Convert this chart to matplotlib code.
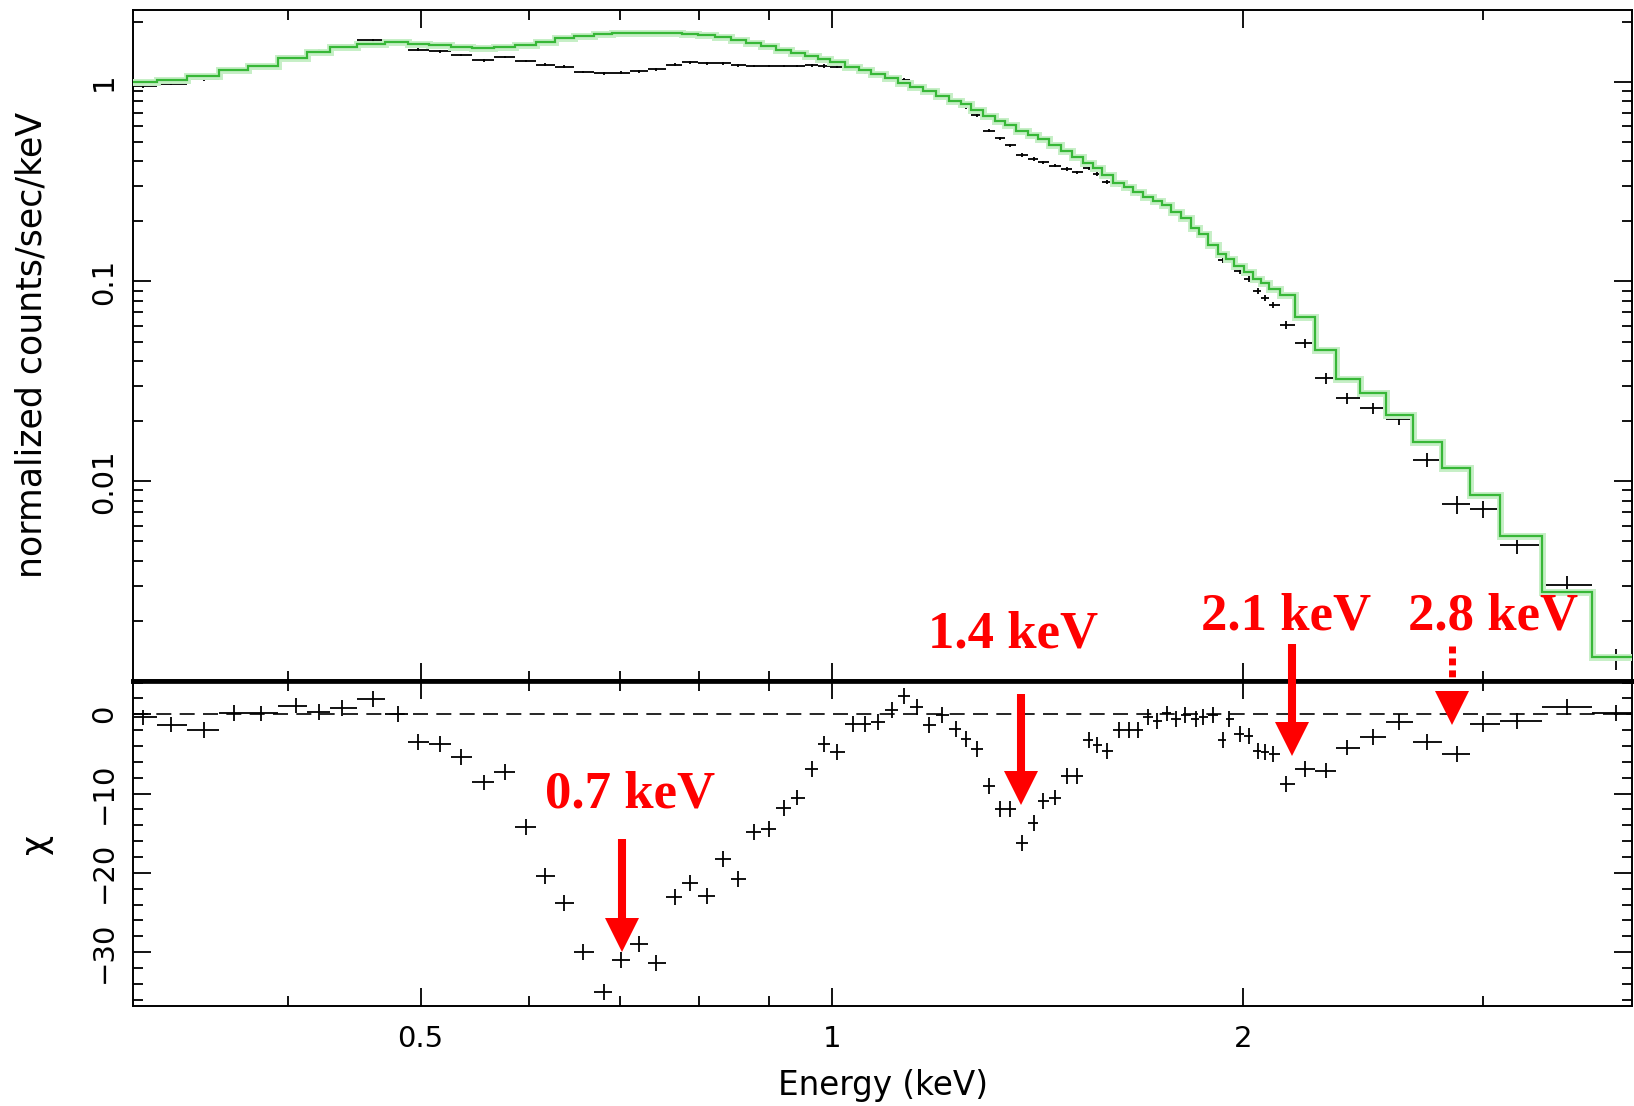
import matplotlib
matplotlib.use('Agg')
import matplotlib.pyplot as plt
import numpy as np
from matplotlib.ticker import FixedLocator, FixedFormatter, NullFormatter, LogLocator, MultipleLocator

plt.rcParams['font.family'] = ['DejaVu Sans']

# 数据：能量 (keV)、chi 残差、归一化计数、模型、上图误差(%)
energy = [0.313, 0.328, 0.347, 0.365, 0.382, 0.405, 0.421, 0.438, 0.461, 0.481,
          0.498, 0.517, 0.535, 0.556, 0.576, 0.597, 0.617, 0.637, 0.658, 0.681,
          0.701, 0.723, 0.744, 0.768, 0.787, 0.810, 0.833, 0.854, 0.877, 0.899,
          0.923, 0.944, 0.968,
          0.987, 1.009, 1.036, 1.057, 1.081, 1.107, 1.130, 1.154, 1.178, 1.205,
          1.234, 1.254, 1.278, 1.305, 1.328, 1.352, 1.378, 1.406, 1.428, 1.457,
          1.486, 1.513, 1.544, 1.565, 1.590, 1.624, 1.650, 1.676, 1.706, 1.732,
          1.759, 1.787, 1.816, 1.848, 1.871, 1.901, 1.935, 1.953, 1.991, 2.020,
          2.051, 2.078, 2.105, 2.152, 2.220, 2.301, 2.384, 2.492, 2.604, 2.730,
          2.871, 3.001, 3.179, 3.458, 3.753]

chi = [-0.4, -1.3, -2.0, 0.2, 0.1, 1.1, 0.3, 0.8, 1.9, 0.0,
       -3.5, -3.8, -5.4, -8.6, -7.3, -14.2, -20.4, -23.8, -30.0, -35.0,
       -31.0, -29.0, -31.4, -23.1, -21.3, -22.9, -18.3, -20.8, -14.9, -14.5,
       -11.8, -10.5, -6.9,
       -3.8, -4.8, -1.2, -1.2, -1.0, 0.5, 2.3, 0.9, -1.4, -0.1,
       -1.9, -3.1, -4.4, -9.0, -12.0, -12.0, -16.2, -13.7, -10.9, -10.5,
       -7.8, -7.8, -3.3, -3.9, -4.6, -2.0, -2.0, -2.0, -0.3, -0.8,
       0.1, -0.6, -0.1, -0.6, -0.3, -0.1, -3.2, -0.6, -2.5, -2.7,
       -4.6, -4.8, -5.0, -8.8, -6.9, -7.1, -4.2, -2.9, -1.0, -3.5,
       -5.0, -1.2, -0.9, 0.9, 0.2]

counts = [0.95, 0.975, 1.03, 1.145, 1.21, 1.34, 1.43, 1.52, 1.61, 1.57,
          1.45, 1.42, 1.36, 1.28, 1.33, 1.27, 1.22, 1.19, 1.12, 1.10,
          1.11, 1.13, 1.155, 1.22, 1.25, 1.24, 1.24, 1.21, 1.20, 1.20,
          1.20, 1.20, 1.21,
          1.20, 1.19, 1.165, 1.12, 1.075, 1.045, 1.02, 0.945, 0.885, 0.845,
          0.785, 0.745, 0.68, 0.57, 0.52, 0.48, 0.43, 0.41, 0.395, 0.38,
          0.366, 0.352, 0.369, 0.345, 0.316, 0.305, 0.29, 0.276, 0.264, 0.251,
          0.24, 0.222, 0.208, 0.184, 0.171, 0.152, 0.128, 0.129, 0.113, 0.103,
          0.090, 0.083, 0.076, 0.0608, 0.049, 0.0327, 0.026, 0.0232, 0.0206, 0.0128,
          0.00765, 0.00726, 0.00481, 0.00302, 0.00129]

model = [1.00, 1.02, 1.07, 1.145, 1.20, 1.31, 1.41, 1.49, 1.55, 1.575,
         1.55, 1.52, 1.49, 1.475, 1.49, 1.53, 1.59, 1.65, 1.70, 1.735,
         1.745, 1.745, 1.745, 1.745, 1.74, 1.72, 1.67, 1.62, 1.57, 1.51,
         1.44, 1.40, 1.35,
         1.30, 1.25, 1.19, 1.14, 1.09, 1.04, 0.99, 0.94, 0.90, 0.85,
         0.80, 0.775, 0.725, 0.67, 0.635, 0.605, 0.57, 0.54, 0.515, 0.485,
         0.45, 0.42, 0.39, 0.37, 0.34, 0.313, 0.296, 0.281, 0.265, 0.253,
         0.241, 0.224, 0.209, 0.186, 0.172, 0.152, 0.138, 0.130, 0.119, 0.111,
         0.103, 0.098, 0.092, 0.0855, 0.0667, 0.0453, 0.0324, 0.0278, 0.0214, 0.0157,
         0.0116, 0.0085, 0.0053, 0.0028, 0.00132]

err_pct = [1.6, 1.6, 1.6, 1.5, 1.5, 1.5, 1.5, 1.5, 1.5, 1.5,
           1.5, 1.5, 1.5, 1.5, 1.5, 1.5, 1.5, 1.5, 1.6, 1.6,
           1.6, 1.6, 1.6, 1.6, 1.6, 1.6, 1.6, 1.6, 1.6, 1.6,
           1.6, 1.6, 1.7,
           1.8, 1.8, 1.8, 1.8, 1.8, 1.8, 1.8, 1.8, 1.8, 1.8,
           1.8, 1.8, 1.8, 2.0, 2.0, 2.0, 2.0, 2.0, 2.0, 2.0,
           2.0, 2.0, 2.0, 2.0, 2.5, 2.5, 2.5, 2.5, 2.5, 2.5,
           2.5, 2.5, 2.5, 2.5, 2.5, 2.5, 3.5, 3.5, 3.5, 3.5,
           3.5, 3.5, 3.5, 4.5, 5.0, 6.0, 6.0, 6.0, 7.0, 8.0,
           10.0, 10.0, 10.0, 11.0, 12.0]

# 谱线标注
line_labels = ['0.7 keV', '1.4 keV', '2.1 keV', '2.8 keV']

e = np.array(energy)
cnt = np.array(counts)
mid = np.sqrt(e[:-1] * e[1:])
edges = np.concatenate([[e[0] ** 2 / mid[0]], mid, [e[-1] ** 2 / mid[-1]]])
xerr = [e - edges[:-1], edges[1:] - e]

fig = plt.figure(figsize=(16.34, 11.06), dpi=100)
ax1 = fig.add_axes([0.0814, 0.3843, 0.9174, 0.6071])
ax2 = fig.add_axes([0.0814, 0.0904, 0.9174, 0.2939])

# 上图：数据 + 模型
ax1.errorbar(e, cnt, xerr=xerr, yerr=cnt * np.array(err_pct) / 100.0,
             fmt='none', ecolor='black', elinewidth=1.3, capsize=0, zorder=2)
ax1.stairs(model, edges, baseline=None, color='#c6efc6', lw=5, zorder=3)
ax1.stairs(model, edges, baseline=None, color='#37b737', lw=1.6, zorder=4)

# 下图：残差
ax2.errorbar(e, chi, xerr=xerr, yerr=1.0, fmt='none', ecolor='black',
             elinewidth=1.3, capsize=0, zorder=3)
ax2.axhline(0, color='black', lw=1.2, ls=(0, (9, 5)), zorder=2)

for ax in (ax1, ax2):
    ax.set_xscale('log')
    ax.set_xlim(0.3078, 3.857)
    ax.xaxis.set_major_locator(FixedLocator([0.5, 1, 2]))
    ax.xaxis.set_minor_locator(FixedLocator([0.4, 0.6, 0.7, 0.8, 0.9, 3]))
    ax.xaxis.set_minor_formatter(NullFormatter())
    ax.tick_params(which='both', direction='in', top=True, right=True, width=1.3)
    ax.tick_params(which='major', length=13, labelsize=21)
    ax.tick_params(which='minor', length=7)
    for s in ax.spines.values():
        s.set_linewidth(1.4)

ax1.spines['bottom'].set_linewidth(3.4)
ax2.spines['top'].set_linewidth(3.4)

ax1.set_yscale('log')
ax1.set_ylim(0.001, 2.3)
ax1.yaxis.set_major_locator(FixedLocator([0.01, 0.1, 1]))
ax1.yaxis.set_major_formatter(FixedFormatter(['0.01', '0.1', '1']))
ax1.yaxis.set_minor_locator(LogLocator(base=10, subs=np.arange(2, 10)))
ax1.yaxis.set_minor_formatter(NullFormatter())
ax1.tick_params(labelbottom=False)
ax1.tick_params(axis='y', labelrotation=90, pad=11)

ax2.set_ylim(-36.8, 4.2)
ax2.yaxis.set_major_locator(FixedLocator([0, -10, -20, -30]))
ax2.yaxis.set_minor_locator(MultipleLocator(2))
ax2.xaxis.set_major_formatter(FixedFormatter(['0.5', '1', '2']))
ax2.tick_params(axis='y', labelrotation=90, pad=11)
ax2.tick_params(axis='x', pad=14)

ax1.set_ylabel('normalized counts/sec/keV', fontsize=25, va='center')
ax1.yaxis.set_label_coords(-0.068, 0.5)
ax2.set_ylabel('χ', fontsize=25, va='center')
ax2.yaxis.set_label_coords(-0.065, 0.5)
ax2.set_xlabel('Energy (keV)', fontsize=23.5, va='center')
ax2.xaxis.set_label_coords(0.5, -0.243)

for lbl in ax1.get_yticklabels() + ax2.get_yticklabels():
    lbl.set_va('center')

# 箭头：竖线 + 三角箭头
arrow_x = [0.702, 1.377, 2.172, 2.846]
arrow_top = [-15.7, 2.5, 8.8, 8.6]
arrow_end = [-27.8, -9.3, -3.1, 4.6]
arrow_head = [-27.9, -9.25, -3.1, 0.85]
for i in range(4):
    if i == 3:
        ax2.plot([arrow_x[i]] * 2, [arrow_top[i], arrow_end[i]], color='red', lw=5,
                 ls=(0, (1.0, 0.72)), solid_capstyle='butt', dash_capstyle='butt',
                 clip_on=False, zorder=5)
    else:
        ax2.plot([arrow_x[i]] * 2, [arrow_top[i], arrow_end[i]], color='red', lw=5.8,
                 solid_capstyle='butt', clip_on=False, zorder=5)
    ax2.plot(arrow_x[i], arrow_head[i], marker='v', markersize=25, color='red',
             markeredgewidth=0, clip_on=False, zorder=6)

label_pos = [(0.712, -11.8), (1.358, 8.45), (2.151, 10.7), (3.051, 10.7)]
for txt, (lx, ly) in zip(line_labels, label_pos):
    ax2.text(lx, ly, txt, color='red', fontsize=38, fontweight='bold',
             family='Liberation Serif', ha='center', va='baseline', zorder=7)

plt.savefig('out.png', dpi=100)
